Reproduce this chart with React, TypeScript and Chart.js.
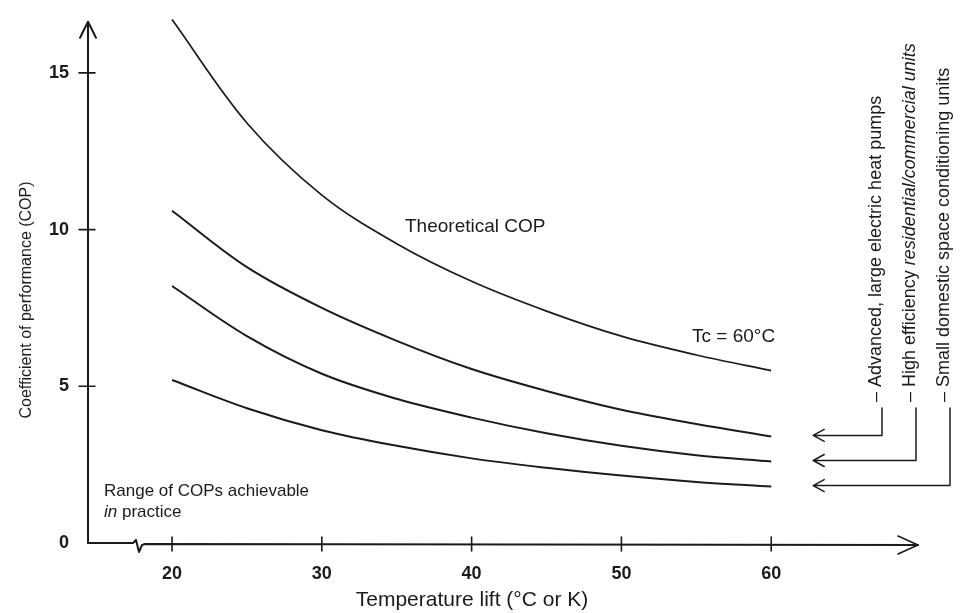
import React, { useEffect, useRef } from 'react';
import { Chart, registerables } from 'chart.js';

Chart.register(...registerables);

// ---- data ----
const temperatureLift = [20, 25, 30, 35, 40, 45, 50, 55, 60];
const theoreticalCop = [16.7, 13.4, 11.1, 9.55, 8.35, 7.4, 6.6, 6.0, 5.5];
const advancedCop = [10.6, 8.8, 7.5, 6.45, 5.55, 4.85, 4.25, 3.8, 3.4];
const highEfficiencyCop = [8.2, 6.6, 5.4, 4.6, 4.0, 3.5, 3.1, 2.8, 2.6];
const smallDomesticCop = [5.2, 4.3, 3.6, 3.1, 2.7, 2.4, 2.15, 1.95, 1.8];

const xTickValues = [20, 30, 40, 50, 60];
const yTickValues = [0, 5, 10, 15];

const xAxisTitle = 'Temperature lift (°C or K)';
const yAxisTitle = 'Coefficient of performance (COP)';
const theoreticalLabel = 'Theoretical COP';
const tcLabel = 'Tc = 60°C';
const rangeLabelLine1 = 'Range of COPs achievable';
const rangeLabelItalic = 'in';
const rangeLabelRest = ' practice';

const categoryUpright = ['– Advanced, large electric heat pumps', '– High efficiency ', '– Small domestic space conditioning units'];
const categoryItalic = ['', 'residential/commercial units', ''];

const INK = '#1b1b1b';
const FONT = '"Liberation Sans", Arial, sans-serif';

const overlayPlugin = {
  id: 'overlay',
  afterDraw(chart: any) {
    const { ctx, chartArea, scales } = chart;
    const xs = scales.x;
    const ys = scales.y;
    const x0 = chartArea.left;
    const y0 = ys.getPixelForValue(0);
    const top = chartArea.top;
    const right = chartArea.right;

    ctx.save();
    ctx.strokeStyle = INK;
    ctx.fillStyle = INK;
    ctx.lineCap = 'round';
    ctx.lineJoin = 'round';

    // y axis with arrow
    ctx.lineWidth = 2;
    ctx.beginPath();
    ctx.moveTo(x0, y0);
    ctx.lineTo(x0, top);
    ctx.moveTo(x0 - 8, top + 16);
    ctx.lineTo(x0, top);
    ctx.lineTo(x0 + 8, top + 16);
    ctx.stroke();

    // x axis with break and arrow
    ctx.beginPath();
    ctx.moveTo(x0, y0);
    ctx.lineTo(x0 + 45, y0);
    ctx.lineTo(x0 + 48, y0 - 3);
    ctx.lineTo(x0 + 51, y0 + 9);
    ctx.lineTo(x0 + 54, y0 + 2);
    ctx.lineTo(x0 + 57, y0 + 1);
    ctx.lineTo(right, y0 + 2);
    ctx.stroke();
    ctx.lineWidth = 1.6;
    ctx.beginPath();
    ctx.moveTo(right - 20, y0 - 7);
    ctx.lineTo(right, y0 + 2);
    ctx.lineTo(right - 20, y0 + 11);
    ctx.stroke();

    // tick marks
    ctx.lineWidth = 1.6;
    ctx.beginPath();
    yTickValues.forEach((v) => {
      if (v === 0) return;
      const py = ys.getPixelForValue(v);
      ctx.moveTo(x0 - 9, py);
      ctx.lineTo(x0 + 7, py);
    });
    xTickValues.forEach((v) => {
      const px = xs.getPixelForValue(v);
      ctx.moveTo(px, y0 - 6);
      ctx.lineTo(px, y0 + 8);
    });
    ctx.stroke();

    // axis titles
    ctx.textAlign = 'center';
    ctx.textBaseline = 'middle';
    ctx.font = `21px ${FONT}`;
    ctx.fillText(xAxisTitle, 472, 600);
    ctx.save();
    ctx.translate(27, 300);
    ctx.rotate(-Math.PI / 2);
    ctx.font = `16px ${FONT}`;
    ctx.fillText(yAxisTitle, 0, 0);
    ctx.restore();

    // curve labels
    ctx.textAlign = 'left';
    ctx.font = `19px ${FONT}`;
    ctx.fillText(theoreticalLabel, 405, 227);
    ctx.fillText(tcLabel, 692, 337);
    ctx.font = `17px ${FONT}`;
    ctx.fillText(rangeLabelLine1, 104, 491);
    ctx.font = `italic 17px ${FONT}`;
    ctx.fillText(rangeLabelItalic, 104, 512);
    const wIn = ctx.measureText(rangeLabelItalic).width;
    ctx.font = `17px ${FONT}`;
    ctx.fillText(rangeLabelRest, 104 + wIn, 512);

    // right-hand category annotations with arrows
    const ends = [advancedCop, highEfficiencyCop, smallDomesticCop].map((s) => s[s.length - 1]);
    const lineXs = [882, 916, 950];
    const tipX = xs.getPixelForValue(60) + 42;
    ends.forEach((val, i) => {
      const ay = ys.getPixelForValue(val) - 1;
      const lx = lineXs[i];
      const textStart = 402;
      ctx.lineWidth = 1.5;
      ctx.beginPath();
      ctx.moveTo(lx, textStart + 6);
      ctx.lineTo(lx, ay);
      ctx.lineTo(tipX, ay);
      ctx.moveTo(tipX + 11, ay - 6);
      ctx.lineTo(tipX, ay);
      ctx.lineTo(tipX + 11, ay + 6);
      ctx.stroke();

      ctx.save();
      ctx.translate(lx - 1, textStart);
      ctx.rotate(-Math.PI / 2);
      ctx.textAlign = 'left';
      ctx.textBaseline = 'alphabetic';
      ctx.font = `18px ${FONT}`;
      ctx.fillText(categoryUpright[i], 0, 0);
      const w = ctx.measureText(categoryUpright[i]).width;
      if (categoryItalic[i]) {
        ctx.font = `italic 18px ${FONT}`;
        ctx.fillText(categoryItalic[i], w, 0);
      }
      ctx.restore();
    });

    ctx.restore();
  },
};

export default function App() {
  const canvasRef = useRef<HTMLCanvasElement>(null);

  useEffect(() => {
    if (!canvasRef.current) return;
    const lineStyle = {
      borderColor: INK,
      borderWidth: 2,
      pointRadius: 0,
      tension: 0.35,
      fill: false,
      clip: false as any,
    };
    const chart = new Chart(canvasRef.current, {
      type: 'line',
      data: {
        datasets: [
          { label: 'Theoretical COP', data: temperatureLift.map((x, i) => ({ x, y: theoreticalCop[i] })), ...lineStyle, borderWidth: 1.7 },
          { label: 'Advanced, large electric heat pumps', data: temperatureLift.map((x, i) => ({ x, y: advancedCop[i] })), ...lineStyle },
          { label: 'High efficiency residential/commercial units', data: temperatureLift.map((x, i) => ({ x, y: highEfficiencyCop[i] })), ...lineStyle },
          { label: 'Small domestic space conditioning units', data: temperatureLift.map((x, i) => ({ x, y: smallDomesticCop[i] })), ...lineStyle },
        ],
      },
      options: {
        responsive: false,
        animation: false,
        devicePixelRatio: 1,
        layout: { padding: { top: 14, right: 60, left: 0, bottom: 0 } },
        plugins: { legend: { display: false }, tooltip: { enabled: false }, title: { display: false } },
        scales: {
          x: {
            type: 'linear',
            min: 14.39,
            max: 69.8,
            afterBuildTicks: (s: any) => {
              s.ticks = xTickValues.map((v) => ({ value: v }));
            },
            afterFit: (s: any) => {
              s.height = 70;
            },
            grid: { display: false },
            border: { display: false },
            ticks: { color: INK, padding: 12, maxRotation: 0, autoSkip: false, font: { family: FONT, size: 18, weight: 'bold' } },
          },
          y: {
            type: 'linear',
            min: 0,
            max: 16.63,
            afterBuildTicks: (s: any) => {
              s.ticks = yTickValues.map((v) => ({ value: v }));
            },
            afterFit: (s: any) => {
              s.width = 88;
            },
            grid: { display: false },
            border: { display: false },
            ticks: { color: INK, padding: 11, autoSkip: false, font: { family: FONT, size: 18, weight: 'bold' } },
          },
        },
      },
      plugins: [overlayPlugin],
    });
    return () => chart.destroy();
  }, []);

  return (
    <div style={{ position: 'absolute', left: 0, top: 0, width: 978, height: 613, background: '#fff' }}>
      <canvas ref={canvasRef} width={978} height={613} style={{ width: 978, height: 613, display: 'block' }} />
    </div>
  );
}
